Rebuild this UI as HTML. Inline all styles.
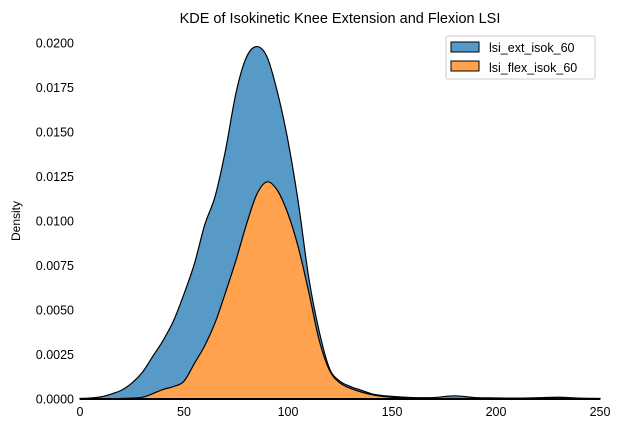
<!DOCTYPE html>
<html><head><meta charset="utf-8"><style>
body{margin:0;background:#fff;}
svg text{font-family:"Liberation Sans","DejaVu Sans",sans-serif;fill:#000;}
</style></head><body>
<svg id="c" width="622" height="426" xmlns="http://www.w3.org/2000/svg">
<text x="340" y="23" font-size="14.5" text-anchor="middle">KDE of Isokinetic Knee Extension and Flexion LSI</text>
<text transform="translate(20,221) rotate(-90)" font-size="12" text-anchor="middle">Density</text>
<g id="plot"></g>
<g id="xt"></g>
<g id="yt"></g>
<g>
<rect x="446" y="36" width="149" height="43" fill="#fff" stroke="#ccc" rx="2"/>
<g><rect x="451" y="42" width="28" height="10" fill="#5799c7" stroke="#000"/><text x="489" y="52" font-size="12.5">lsi_ext_isok_60</text></g>
<g><rect x="451" y="61" width="28" height="10" fill="#ffa14d" stroke="#000"/><text x="489" y="72" font-size="12.5">lsi_flex_isok_60</text></g>
</g>
</svg>
<script>
const xs=[0,5,10,15,20,25,30,35,40,45,50,55,60,65,70,75,80,85,90,95,100,105,110,115,120,125,130,135,140,145,150,160,170,180,190,200,210,220,230,240,250];
const flexDensity=[0,0,0,0.00001,0.00003,0.00005,0.0001,0.0003,0.00054,0.0007,0.001,0.002,0.003,0.0043,0.006,0.0078,0.0098,0.0115,0.0122,0.0117,0.0104,0.0085,0.006,0.0033,0.0016,0.0009,0.0006,0.0004,0.00025,0.00015,0.0001,0.00003,0.00002,0.00003,0.00001,0,0,0,0,0,0];
const extDensity=[0.00003,0.00006,0.00012,0.00027,0.00047,0.00085,0.0014,0.0021,0.00276,0.0037,0.0049,0.0056,0.0068,0.0071,0.008,0.0094,0.0094,0.0083,0.007,0.0055,0.0041,0.0025,0.0008,0.0005,0.0001,0.0001,0.0001,0.0001,0.00005,0.00005,0.00005,0.00005,0.00006,0.00015,0.00007,0.00006,0.00005,0.00007,0.0001,0.00005,0.00003];
const xTicks=[0,50,100,150,200,250];
const yTicks=[0,0.0025,0.005,0.0075,0.01,0.0125,0.015,0.0175,0.02];
const yTickLabels=["0.0000","0.0025","0.0050","0.0075","0.0100","0.0125","0.0150","0.0175","0.0200"];
const X=v=>80+v*520/250, Y=v=>399-v*356/0.02;
const NS="http://www.w3.org/2000/svg";
function smooth(pts){let d=`M${pts[0][0]},${pts[0][1]}`;
 for(let i=0;i<pts.length-1;i++){const p0=pts[i-1]||pts[i],p1=pts[i],p2=pts[i+1],p3=pts[i+2]||p2;
  d+=` C${p1[0]+(p2[0]-p0[0])/6},${p1[1]+(p2[1]-p0[1])/6} ${p2[0]-(p3[0]-p1[0])/6},${p2[1]-(p3[1]-p1[1])/6} ${p2[0]},${p2[1]}`;}
 return d;}
const plot=document.getElementById('plot');
const topPts=xs.map((x,i)=>[X(x),Y(flexDensity[i]+extDensity[i])]);
const midPts=xs.map((x,i)=>[X(x),Y(flexDensity[i])]);
const base=`L${X(250)},${Y(0)} L${X(0)},${Y(0)} Z`;
let p=document.createElementNS(NS,'path');
p.setAttribute('d',smooth(topPts)+base);p.setAttribute('fill','#5799c7');p.setAttribute('stroke','#000');p.setAttribute('stroke-width','1.2');


plot.appendChild(p);
p=document.createElementNS(NS,'path');
p.setAttribute('d',smooth(midPts)+base);p.setAttribute('fill','#ffa14d');p.setAttribute('stroke','#000');p.setAttribute('stroke-width','1.2');


plot.appendChild(p);
let bl=document.createElementNS(NS,'line');
bl.setAttribute('x1',X(0));bl.setAttribute('x2',X(250));bl.setAttribute('y1',Y(0));bl.setAttribute('y2',Y(0));bl.setAttribute('stroke','#000');bl.setAttribute('stroke-width','2');


plot.appendChild(bl);
const xt=document.getElementById('xt');
xTicks.forEach(v=>{const t=document.createElementNS(NS,'text');t.setAttribute('x',X(v));t.setAttribute('y',416);t.setAttribute('font-size','12.5');t.setAttribute('text-anchor','middle');t.textContent=v;


xt.appendChild(t);});
const yt=document.getElementById('yt');
yTicks.forEach((v,i)=>{const t=document.createElementNS(NS,'text');t.setAttribute('x',74);t.setAttribute('y',Y(v)+4.5);t.setAttribute('font-size','12.5');t.setAttribute('text-anchor','end');t.textContent=yTickLabels[i];


yt.appendChild(t);});
</script>
</body></html>
